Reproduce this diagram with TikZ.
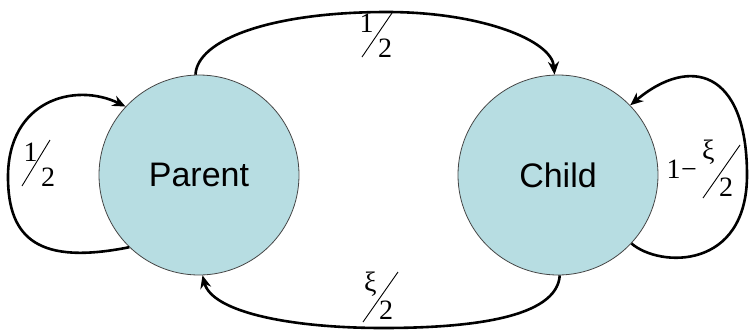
\documentclass[tikz,border=0pt]{standalone}
\usepackage{fontspec}
\setmainfont{Liberation Serif}
\newfontfamily\statefont{Liberation Sans}
\usetikzlibrary{arrows.meta}
\definecolor{statefill}{RGB}{183,221,226}
\definecolor{stateline}{RGB}{70,70,70}
\begin{document}
\begin{tikzpicture}[x=1pt,y=-1pt,
  state/.style={circle, minimum size=200pt, inner sep=0pt, fill=statefill,
    draw=stateline, line width=0.8pt, font=\statefont\fontsize{34}{40}\selectfont},
  edge/.style={line width=2.6pt, -{Stealth[length=13pt,width=11pt]}},
  num/.style={inner sep=0pt, anchor=base west, font=\fontsize{28}{32}\selectfont},
  bar/.style={line width=0.9pt}]
\useasboundingbox (0,0) rectangle (750,330);
\node[state] (parent) at (199,175) {Parent};
\node[state] (child) at (558,175) {Child};
% connectors
\draw[edge] (parent.92) .. controls (197,40) and (270,12) .. (387,12)
  .. controls (480,12) and (552,40) .. (child.92);
\draw[edge] (child.-89) .. controls (557,318) and (470,328) .. (383,328)
  .. controls (290,328) and (212,312) .. (parent.-88);
\draw[edge] (parent.-134) .. controls (40,265) and (8,240) .. (8,177)
  .. controls (8,100) and (75,82) .. (parent.137);
\draw[edge] (child.-43) .. controls (660,268) and (747,270) .. (747,175)
  .. controls (747,70) and (690,55) .. (child.44);
% top label 1/2
\node[num] (topnum) at (359.5,32) {1};
\node[num] (topden) at (378,57.5) {2};
\coordinate (topa) at (362,57); \coordinate (topb) at (392,13);
\draw[bar] (topa) -- (topb);
% left label 1/2
\node[num] (leftnum) at (23.5,161) {1};
\node[num] (leftden) at (41,186) {2};
\coordinate (lefta) at (22,186); \coordinate (leftb) at (50,140);
\draw[bar] (lefta) -- (leftb);
% bottom label xi/2
\node[num] (botnum) at (364,291) {ξ};
\node[num] (botden) at (379,319) {2};
\coordinate (bota) at (363,322); \coordinate (botb) at (398,272);
\draw[bar] (bota) -- (botb);
% right label 1 - xi/2
\node[num] (rightone) at (666.5,178) {1\kern0.5pt−};
\node[num] (rightnum) at (702,159) {ξ};
\node[num] (rightden) at (719,196) {2};
\coordinate (righta) at (703,198); \coordinate (rightb) at (740,145);
\draw[bar] (righta) -- (rightb);
\end{tikzpicture}
\end{document}
